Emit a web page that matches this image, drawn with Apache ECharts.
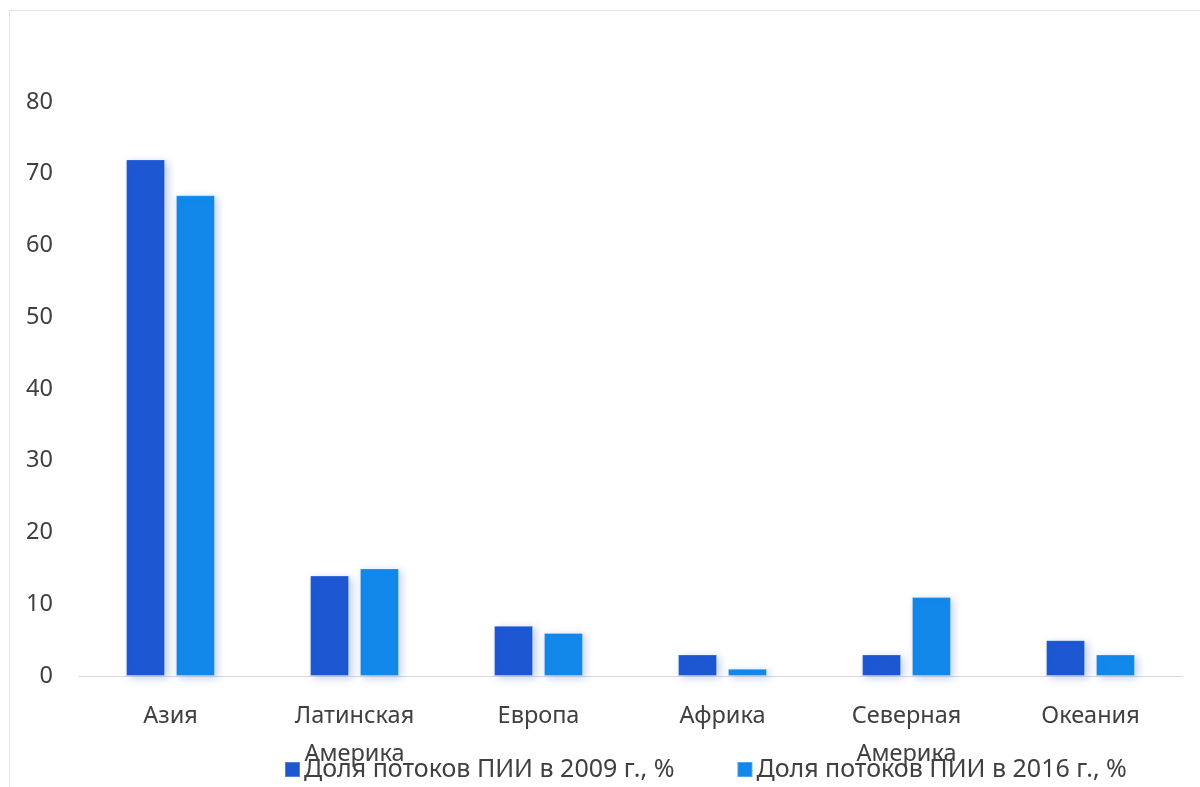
<!DOCTYPE html>
<html><head><meta charset="utf-8">
<script src="https://cdn.jsdelivr.net/npm/echarts@6/dist/echarts.min.js"></script>
<style>
html,body{margin:0;padding:0;width:1200px;height:787px;overflow:hidden;background:#fff;}
#frame{position:absolute;left:9px;top:10px;width:1220px;height:820px;border:1px solid #e3e3e3;box-sizing:border-box;}
#c{position:absolute;left:0;top:0;width:1200px;height:787px;}
</style></head>
<body><div id="frame"></div><div id="c"></div>
<script>
const categories = ['Азия', 'Латинская\nАмерика', 'Европа', 'Африка', 'Северная\nАмерика', 'Океания'];
const seriesNames = ['Доля потоков ПИИ в 2009 г., %', 'Доля потоков ПИИ в 2016 г., %'];
const values2009 = [72, 14, 7, 3, 3, 5];
const values2016 = [67, 15, 6, 1, 11, 3];
const colors = ['#1d57d2', '#1288eb'];

const font = '"Noto Sans", "Open Sans", sans-serif';
const chart = echarts.init(document.getElementById('c'), null, {renderer: 'canvas'});
function bar(name, data, color) {
  return {
    name, type: 'bar', data, barWidth: 39, barGap: '28%',
    itemStyle: {
      color, borderColor: 'rgba(255,255,255,0.25)', borderWidth: 1,
      shadowColor: 'rgba(30,80,200,0.28)', shadowBlur: 8, shadowOffsetX: 3, shadowOffsetY: 2
    }
  };
}
chart.setOption({
  animation: false,
  textStyle: {fontFamily: font},
  grid: {left: 78.5, right: 17.5, top: 102, bottom: 111, containLabel: false},
  legend: {
    left: 284, top: 757, padding: 0, itemWidth: 15, itemHeight: 15, itemGap: 62,
    icon: 'rect',
    textStyle: {fontSize: 25, color: '#404040', fontFamily: font, padding: [0, 0, 0, -1]},
    data: seriesNames
  },
  xAxis: {
    type: 'category', data: categories,
    axisLine: {lineStyle: {color: '#d9d9d9', width: 1}},
    axisTick: {show: false},
    axisLabel: {fontSize: 23.5, color: '#404040', margin: 21, lineHeight: 38, interval: 0, fontFamily: font}
  },
  yAxis: {
    type: 'value', min: 0, max: 80, interval: 10,
    axisLine: {show: false}, axisTick: {show: false},
    splitLine: {show: false},
    axisLabel: {fontSize: 23.5, color: '#404040', margin: 25.5, fontFamily: font}
  },
  series: [bar(seriesNames[0], values2009, colors[0]), bar(seriesNames[1], values2016, colors[1])]
});
</script></body></html>
